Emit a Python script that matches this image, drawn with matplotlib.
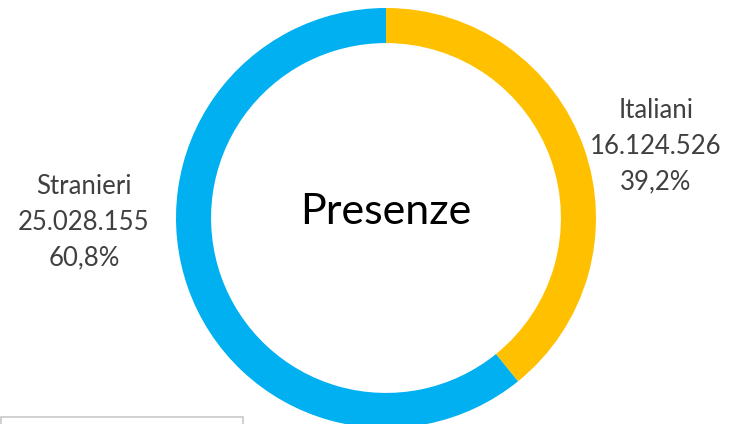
import matplotlib

matplotlib.use("Agg")
import matplotlib.pyplot as plt
from matplotlib.patches import Rectangle

# data
labels = ["Italiani", "Stranieri"]
values = [16124526, 25028155]
colors = ["#FFC000", "#00B0F0"]
centre_title = "Presenze"

W, H = 738, 424
fig = plt.figure(figsize=(W / 100, H / 100), dpi=100)

# donut: centre (386, 218) px, outer radius 210 px
cx, cy, r = 386, 218, 210
ax = fig.add_axes([(cx - r) / W, (H - cy - r) / H, 2 * r / W, 2 * r / H])

ax.pie(
    values,
    colors=colors,
    startangle=90,
    counterclock=False,
    radius=1,
    wedgeprops=dict(width=0.167, linewidth=0),
)
ax.set_xlim(-1, 1)
ax.set_ylim(-1, 1)
ax.set_aspect("equal")
ax.axis("off")
ax.text(0, 0.03, centre_title, ha="center", va="center",
        fontsize=31, color="black", family="Lato")

total = sum(values)


def fmt(v):
    return f"{v:,}".replace(",", ".")


# label positions (px) taken from the reference layout
label_pos = [(656, 146), (84, 222)]
for lab, v, (px, py) in zip(labels, values, label_pos):
    pct = f"{v / total * 100:.1f}%".replace(".", ",")
    fig.text(px / W, 1 - py / H, f"{lab}\n{fmt(v)}\n{pct}",
             ha="center", va="center", fontsize=18.5, color="#404040",
             family="Lato", linespacing=1.55)

# frame of the neighbouring box at bottom left
fig.patches.append(Rectangle((0.5 / W, -0.05), 242 / W, (424 - 417) / H + 0.05,
                             transform=fig.transFigure, fill=False,
                             edgecolor="#C8C8C8", linewidth=1.2))

fig.savefig("out.png", dpi=100)
